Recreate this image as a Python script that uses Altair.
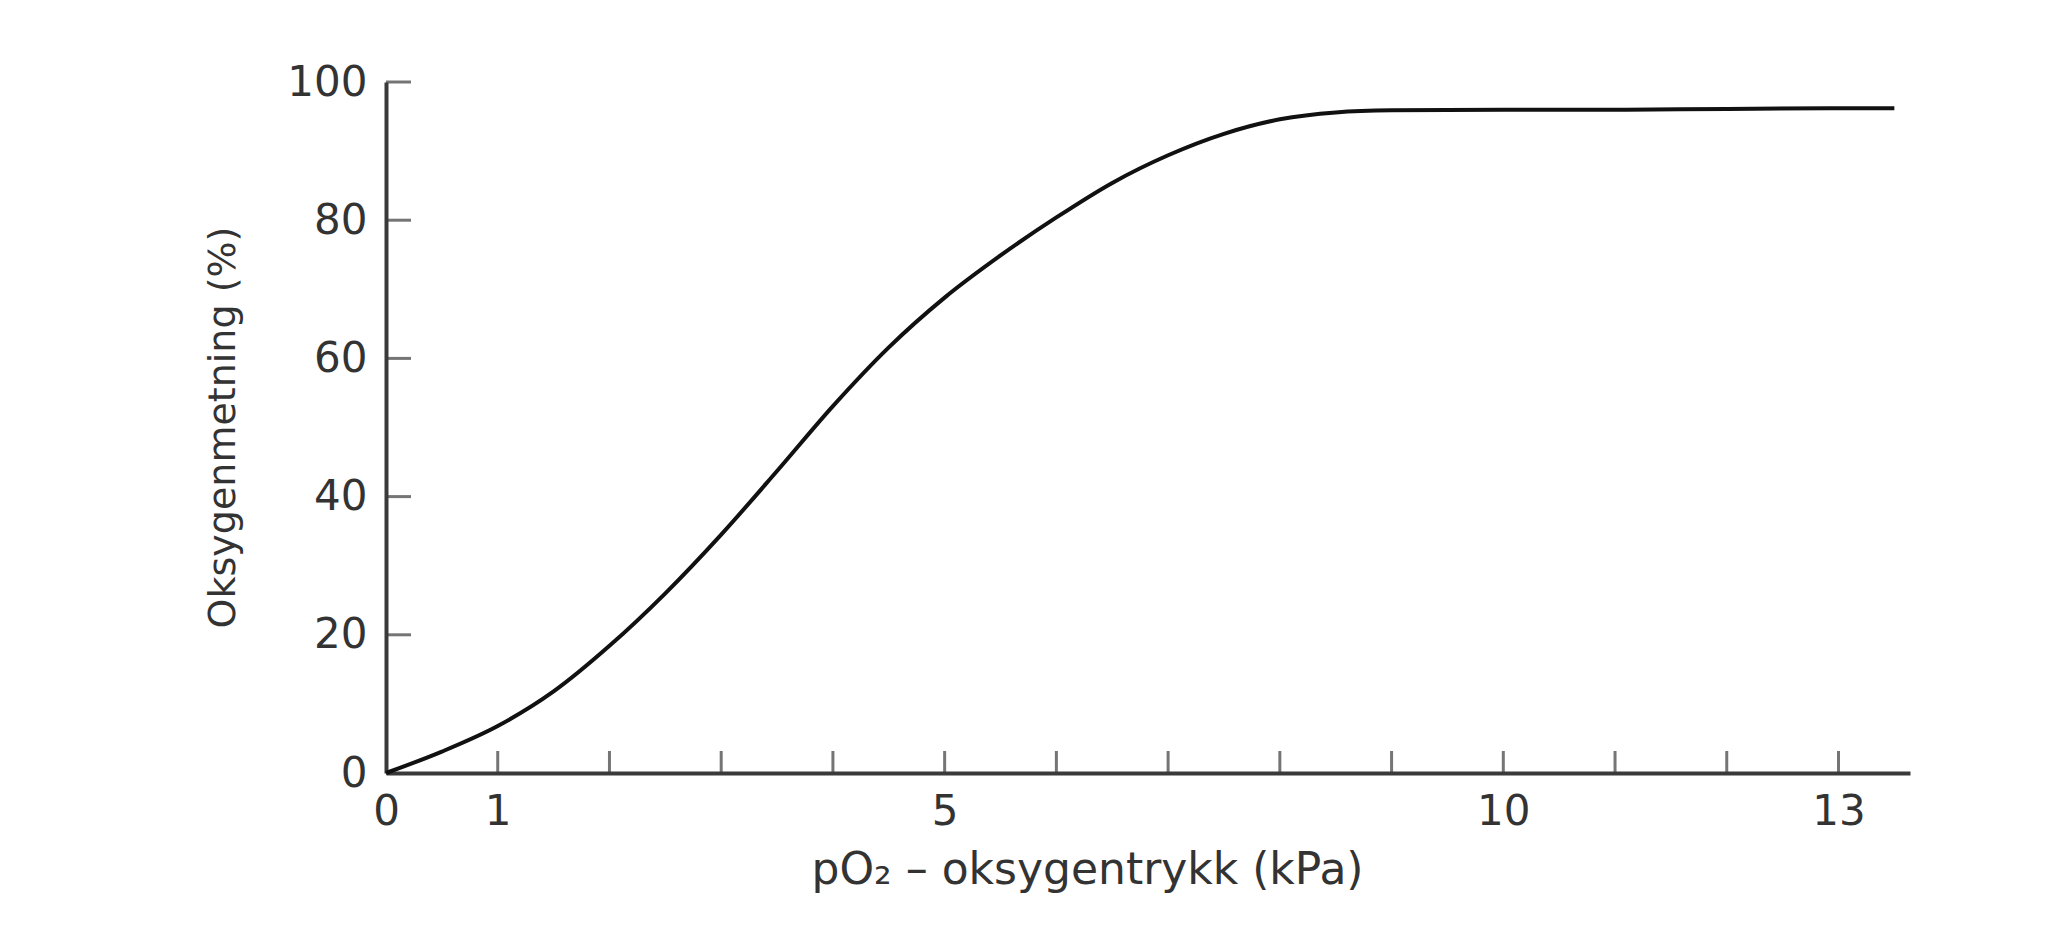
import altair as alt
import pandas as pd

# Oxygen saturation curve
po2 = [0, 0.5, 1, 1.5, 2, 2.5, 3, 3.5, 4, 4.5, 5, 5.5, 6, 6.5, 7, 7.5, 8, 8.5, 9, 10, 11, 12, 13, 13.5]
sat = [0, 3.1, 6.8, 11.8, 18.4, 26.0, 34.5, 43.7, 53.1, 61.6, 68.8, 74.9, 80.4, 85.4, 89.4, 92.5, 94.6, 95.6, 95.9, 96.0, 96.0, 96.1, 96.2, 96.2]

x_tick_values = [1, 2, 3, 4, 5, 6, 7, 8, 9, 10, 11, 12, 13]
x_label_values = [0, 1, 5, 10, 13]
y_tick_values = [20, 40, 60, 80, 100]
y_label_values = [0, 20, 40, 60, 80, 100]

x_title = "pO₂ – oksygentrykk (kPa)"
y_title = "Oksygenmetning (%)"

curve_df = pd.DataFrame({"x": po2, "y": sat})
xt_df = pd.DataFrame({"x": x_tick_values})
yt_df = pd.DataFrame({"y": y_tick_values})

FONT = "DejaVu Sans"
AX = "#3a3a3a"
TXT = "#333333"

xscale = alt.Scale(domain=[0, 13.64], nice=False, zero=False)
yscale = alt.Scale(domain=[0, 100], nice=False)

curve = alt.Chart(curve_df).mark_line(
    interpolate="monotone", color="#111111", strokeWidth=4
).encode(
    x=alt.X("x:Q", scale=xscale, axis=alt.Axis(
        values=x_label_values, format="d", ticks=False, grid=False, labelFlush=False,
        labelOverlap=False, labelFontSize=42, labelFont=FONT, labelColor=TXT,
        labelPadding=18, domainColor=AX, domainWidth=4,
        title=x_title, titleFont=FONT, titleFontSize=44, titleFontWeight="normal",
        titleColor=TXT, titleX=701, titleY=110, titleAnchor="middle",
        titleBaseline="alphabetic")),
    y=alt.Y("y:Q", scale=yscale, axis=alt.Axis(
        values=y_label_values, format="d", ticks=False, grid=False, labelFlush=False,
        labelOverlap=False, labelFontSize=42, labelFont=FONT, labelColor=TXT,
        labelPadding=19, domainColor=AX, domainWidth=4,
        title=y_title, titleFont=FONT, titleFontSize=38, titleFontWeight="normal",
        titleColor=TXT, titleX=-152, titleY=345, titleAnchor="middle",
        titleBaseline="alphabetic")),
)

xticks = alt.Chart(xt_df).mark_tick(
    orient="vertical", size=22, thickness=3, yOffset=-11, color=AX
).encode(x=alt.X("x:Q", scale=xscale), y=alt.datum(0))

yticks = alt.Chart(yt_df).mark_tick(
    orient="horizontal", size=25, thickness=3, xOffset=12.5, color=AX
).encode(y=alt.Y("y:Q", scale=yscale), x=alt.datum(0))

chart = alt.layer(curve, xticks, yticks).properties(
    width=1524, height=691,
    autosize=alt.AutoSizeParams(type="none"),
    padding={"left": 378, "top": 74, "right": 100, "bottom": 120},
    background="white",
).configure_view(stroke=None)

chart.save("out.html", embed_options={"renderer": "svg", "actions": False})
